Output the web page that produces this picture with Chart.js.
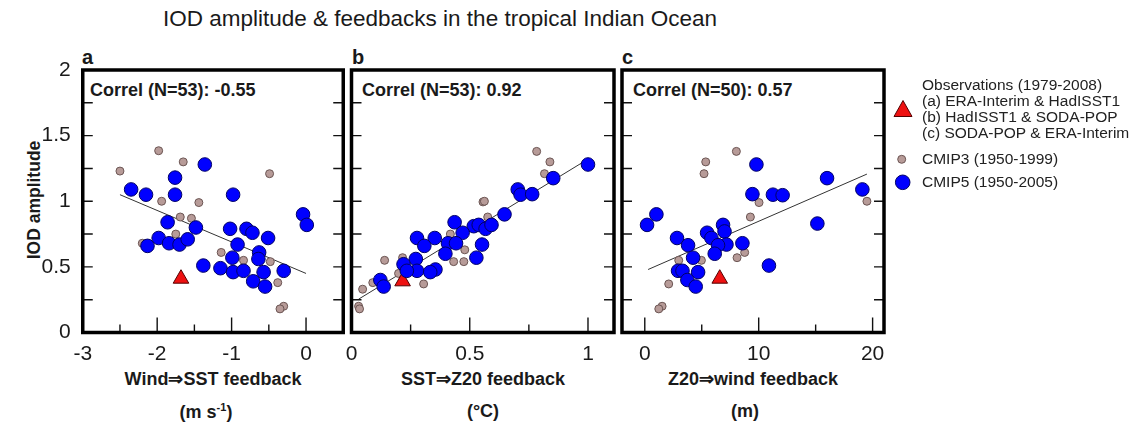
<!DOCTYPE html>
<html><head><meta charset="utf-8">
<script src="https://cdn.jsdelivr.net/npm/chart.js@4.4.0/dist/chart.umd.min.js"></script>
<style>
html,body{margin:0;padding:0;background:#fff;}
body{width:1142px;height:430px;position:relative;overflow:hidden;font-family:"Liberation Sans",Arial,Helvetica,sans-serif;color:#1a1a1a;}
.panel{position:absolute;left:0;top:0;width:1142px;height:430px;}
.t{position:absolute;white-space:nowrap;line-height:1;}
.c{transform:translate(-50%,-50%);}
.b{font-weight:bold;}
.leg{position:absolute;left:922px;font-size:15.5px;line-height:16px;color:#222;white-space:nowrap;}
</style></head><body>

<div class="t c" style="left:440px;top:19px;font-size:22.5px;">IOD amplitude &amp; feedbacks in the tropical Indian Ocean</div>
<div class="t c b" style="left:35px;top:200px;font-size:17.5px;transform:translate(-50%,-50%) rotate(-90deg);">IOD amplitude</div>

<div class="t b" style="left:82px;top:47px;font-size:20px;">a</div>
<div class="t b" style="left:352px;top:47px;font-size:20px;">b</div>
<div class="t b" style="left:622px;top:47px;font-size:20px;">c</div>

<div class="t b" style="left:90px;top:81px;font-size:18px;">Correl (N=53): -0.55</div>
<div class="t b" style="left:362px;top:81px;font-size:18px;">Correl (N=53): 0.92</div>
<div class="t b" style="left:633px;top:81px;font-size:18px;">Correl (N=50): 0.57</div>

<div class="t c b" style="left:213px;top:379px;font-size:18px;">Wind⇒SST feedback</div>
<div class="t c b" style="left:483px;top:379px;font-size:18px;">SST⇒Z20 feedback</div>
<div class="t c b" style="left:753px;top:379px;font-size:18px;">Z20⇒wind feedback</div>
<div class="t c b" style="left:206px;top:411px;font-size:18px;">(m s<sup style="font-size:11px;vertical-align:7px;">-1</sup>)</div>
<div class="t c b" style="left:483px;top:411px;font-size:18px;">(°C)</div>
<div class="t c b" style="left:745px;top:411px;font-size:18px;">(m)</div>

<div class="panel"><canvas id="ca"></canvas></div>
<div class="panel"><canvas id="cb"></canvas></div>
<div class="panel"><canvas id="cc"></canvas></div>

<svg style="position:absolute;left:0;top:0;" width="1142" height="430">
  <polygon points="903,100.5 894,116.5 912,116.5" fill="#ee1111" stroke="#550000" stroke-width="1"/>
  <circle cx="901.7" cy="159.3" r="4" fill="#b79b98" stroke="#6b5553" stroke-width="1"/>
  <circle cx="902.7" cy="182.3" r="7.3" fill="#0000ff" stroke="#000066" stroke-width="1"/>
</svg>
<div class="leg" style="top:77px;">Observations (1979-2008)<br>(a) ERA-Interim &amp; HadISST1<br>(b) HadISST1 &amp; SODA-POP<br>(c) SODA-POP &amp; ERA-Interim</div>
<div class="leg" style="top:151px;">CMIP3 (1950-1999)</div>
<div class="leg" style="top:174px;">CMIP5 (1950-2005)</div>

<script>
// ---- Panel a: Wind -> SST feedback ----
const aCmip5X = [-2.35,-2.15,-1.76,-1.76,-1.36,-0.98,-0.04,0.01,-1.86,-1.48,-1.98,-2.13,-1.84,-1.70,-1.59,-1.02,-0.80,-0.72,-0.51,-0.92,-0.63,-0.64,-0.99,-1.38,-1.15,-0.98,-0.84,-0.57,-0.30,-0.71,-0.55];
const aCmip5Y = [1.09,1.05,1.18,1.05,1.28,1.05,0.90,0.82,0.84,0.80,0.72,0.66,0.68,0.67,0.71,0.79,0.79,0.76,0.72,0.67,0.61,0.56,0.57,0.51,0.49,0.46,0.47,0.46,0.47,0.39,0.35];
const aCmip3X = [-2.50,-1.98,-1.65,-0.49,-1.94,-1.44,-1.69,-1.54,-1.75,-2.20,-1.14,-0.84,-0.48,-0.38,-0.30,-0.35];
const aCmip3Y = [1.23,1.385,1.30,1.21,1.00,0.99,0.88,0.87,0.75,0.68,0.61,0.55,0.54,0.38,0.20,0.18];
const aObsX = [-1.68], aObsY = [0.41];
const aFitX = [-2.5, 0.0], aFitY = [1.05, 0.45];

// ---- Panel b: SST -> Z20 feedback ----
const bCmip5X = [1.00,0.853,0.703,0.715,0.764,0.647,0.436,0.517,0.538,0.567,0.592,0.470,0.277,0.352,0.408,0.442,0.308,0.552,0.397,0.528,0.272,0.220,0.277,0.355,0.333,0.234,0.122,0.136];
const bCmip5Y = [1.28,1.176,1.09,1.05,1.054,0.90,0.84,0.81,0.82,0.79,0.82,0.76,0.72,0.72,0.68,0.68,0.66,0.67,0.60,0.57,0.56,0.52,0.47,0.48,0.46,0.47,0.40,0.35];
const bCmip3X = [0.783,0.839,0.816,0.556,0.562,0.576,0.418,0.479,0.432,0.475,0.140,0.216,0.305,0.090,0.047,0.030,0.034,0.199];
const bCmip3Y = [1.38,1.30,1.21,0.995,1.0,0.88,0.75,0.63,0.54,0.54,0.55,0.57,0.37,0.38,0.33,0.20,0.18,0.45];
const bObsX = [0.216], bObsY = [0.39];
const bFitX = [0.03, 0.99], bFitY = [0.254, 1.31];

// ---- Panel c: Z20 -> wind feedback ----
const cCmip5X = [9.8,16.0,19.1,9.45,11.25,12.1,1.02,0.20,15.15,6.87,7.0,5.47,5.85,2.83,3.8,7.17,8.57,6.43,6.14,4.24,10.9,2.92,3.31,4.68,3.74,4.47];
const cCmip5Y = [1.28,1.176,1.09,1.054,1.05,1.046,0.90,0.82,0.83,0.82,0.77,0.76,0.72,0.72,0.665,0.67,0.68,0.665,0.60,0.57,0.51,0.47,0.47,0.46,0.40,0.35];
const cCmip3X = [8.04,5.35,5.2,10.03,9.27,19.5,8.77,8.1,2.98,4.97,2.1,1.52,1.23];
const cCmip3Y = [1.38,1.30,1.21,0.99,0.88,1.0,0.61,0.57,0.55,0.55,0.37,0.20,0.18];
const cObsX = [6.58], cObsY = [0.41];
const cFitX = [0.29, 19.5], cFitY = [0.48, 1.207];

// ---- Axes: tick labels and tick marks ----
const yTickLabels = ['0','0.5','1','1.5','2'];
const yTickMarks = [0.25,0.5,0.75,1,1.25,1.5,1.75];
const aXTickLabels = ['-3','-2','-1','0'];
const aXMajor = [-2,-1,0], aXMinor = [-2.5,-1.5,-0.5];
const bXTickLabels = ['0','0.5','1'];
const bXMajor = [0.5,1], bXMinor = [0.25,0.75];
const cXTickLabels = ['0','10','20'];
const cXMajor = [0,10,20], cXMinor = [5,15];

const FONT = '"Liberation Sans", Arial, Helvetica, sans-serif';
const zip = (xs, ys) => xs.map((x, i) => ({x, y: ys[i]}));

const framePlugin = {
  id: 'frame',
  afterDraw(chart, args, o) {
    const {ctx, chartArea: a, scales} = chart;
    ctx.save();
    ctx.strokeStyle = '#111';
    ctx.lineWidth = 1.4;
    ctx.beginPath();
    yTickMarks.forEach(v => {
      const py = scales.y.getPixelForValue(v);
      ctx.moveTo(a.left, py); ctx.lineTo(a.left + 10, py);
      ctx.moveTo(a.right, py); ctx.lineTo(a.right - 10, py);
    });
    o.major.forEach(v => {
      const px = scales.x.getPixelForValue(v);
      ctx.moveTo(px, a.bottom); ctx.lineTo(px, a.bottom - 15);
    });
    o.minor.forEach(v => {
      const px = scales.x.getPixelForValue(v);
      ctx.moveTo(px, a.bottom); ctx.lineTo(px, a.bottom - 8);
    });
    ctx.stroke();
    ctx.lineWidth = 3.5;
    ctx.strokeStyle = '#000';
    ctx.strokeRect(a.left, a.top, a.right - a.left, a.bottom - a.top);
    ctx.restore();
  }
};

function makePanel(id, p) {
  const labelSet = p.xLabels;
  new Chart(document.getElementById(id), {
    type: 'scatter',
    data: {
      datasets: [
        {label: 'CMIP5 (1950-2005)', data: zip(p.c5x, p.c5y), pointStyle: 'circle', pointRadius: 6.8,
         backgroundColor: '#0000ff', borderColor: '#000066', borderWidth: 1},
        {label: 'Observations (1979-2008)', data: zip(p.ox, p.oy), pointStyle: 'triangle', pointRadius: 9,
         backgroundColor: '#ee1111', borderColor: '#550000', borderWidth: 1},
        {label: 'CMIP3 (1950-1999)', data: zip(p.c3x, p.c3y), pointStyle: 'circle', pointRadius: 4,
         backgroundColor: '#b79b98', borderColor: '#6b5553', borderWidth: 1},
        {label: 'fit', data: zip(p.fx, p.fy), showLine: true, pointRadius: 0, borderColor: '#333', borderWidth: 1, fill: false}
      ]
    },
    options: {
      responsive: true, maintainAspectRatio: false, animation: false, devicePixelRatio: 1,
      events: [],
      layout: {padding: {left: p.padLeft, right: p.padRight, top: 70, bottom: 0}},
      plugins: {legend: {display: false}, tooltip: {enabled: false}, frame: {major: p.major, minor: p.minor}},
      scales: {
        x: {type: 'linear', min: p.xmin, max: p.xmax,
            afterFit: s => { s.height = 97.5; },
            afterBuildTicks: s => { s.ticks = labelSet.map(l => ({value: parseFloat(l)})); },
            grid: {display: false, drawTicks: false}, border: {display: false},
            ticks: {autoSkip: false, maxRotation: 0, padding: 9, color: '#1a1a1a',
                    font: {family: FONT, size: 21},
                    callback: (v, i) => labelSet[i]}},
        y: {type: 'linear', min: 0, max: 2, display: p.showY,
            afterFit: s => { s.width = p.showY ? 82.75 : 0; },
            afterBuildTicks: s => { s.ticks = yTickLabels.map(l => ({value: parseFloat(l)})); },
            grid: {display: false, drawTicks: false}, border: {display: false},
            ticks: {autoSkip: false, padding: 12, color: '#1a1a1a',
                    font: {family: FONT, size: 21},
                    callback: (v, i) => yTickLabels[i]}}
      }
    },
    plugins: [framePlugin]
  });
}

makePanel('ca', {c5x: aCmip5X, c5y: aCmip5Y, c3x: aCmip3X, c3y: aCmip3Y, ox: aObsX, oy: aObsY, fx: aFitX, fy: aFitY,
  xmin: -3, xmax: 0.5, xLabels: aXTickLabels, major: aXMajor, minor: aXMinor,
  showY: true, padLeft: 0, padRight: 1142 - 343.25});
makePanel('cb', {c5x: bCmip5X, c5y: bCmip5Y, c3x: bCmip3X, c3y: bCmip3Y, ox: bObsX, oy: bObsY, fx: bFitX, fy: bFitY,
  xmin: 0, xmax: 1.11, xLabels: bXTickLabels, major: bXMajor, minor: bXMinor,
  showY: false, padLeft: 351.5, padRight: 1142 - 614});
makePanel('cc', {c5x: cCmip5X, c5y: cCmip5Y, c3x: cCmip3X, c3y: cCmip3Y, ox: cObsX, oy: cObsY, fx: cFitX, fy: cFitY,
  xmin: -2, xmax: 21, xLabels: cXTickLabels, major: cXMajor, minor: cXMinor,
  showY: false, padLeft: 622, padRight: 1142 - 884});
</script>
</body></html>
